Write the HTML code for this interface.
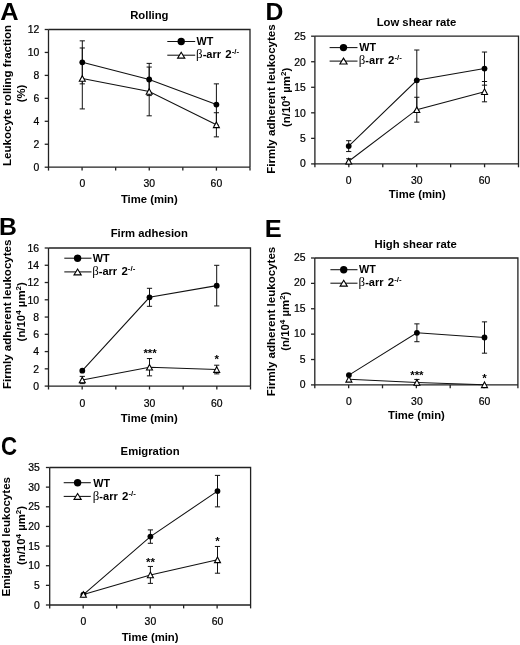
<!DOCTYPE html>
<html><head><meta charset="utf-8"><title>Figure</title>
<style>
html,body{margin:0;padding:0;background:#fff;}
body{width:520px;height:645px;overflow:hidden;font-family:"Liberation Sans", sans-serif;}
svg{display:block;will-change:transform;filter:blur(0.3px);}
</style></head><body>
<svg width="520" height="645" viewBox="0 0 520 645" font-family='"Liberation Sans", sans-serif' fill="#000">
<rect width="520" height="645" fill="#fff"/>
<path d="M48.5,29.5H250V167.2" fill="none" stroke="#222" stroke-width="1.3"/>
<path d="M48.5,29.5V167.2H250" fill="none" stroke="#222" stroke-width="1.3"/>
<line x1="44.7" y1="167.2" x2="48.5" y2="167.2" stroke="#222" stroke-width="1.3"/>
<text x="39.4" y="170.6" font-size="10.4" stroke="#000" stroke-width="0.22" text-anchor="end">0</text>
<line x1="44.7" y1="144.25" x2="48.5" y2="144.25" stroke="#222" stroke-width="1.3"/>
<text x="39.4" y="147.6" font-size="10.4" stroke="#000" stroke-width="0.22" text-anchor="end">2</text>
<line x1="44.7" y1="121.3" x2="48.5" y2="121.3" stroke="#222" stroke-width="1.3"/>
<text x="39.4" y="124.6" font-size="10.4" stroke="#000" stroke-width="0.22" text-anchor="end">4</text>
<line x1="44.7" y1="98.35" x2="48.5" y2="98.35" stroke="#222" stroke-width="1.3"/>
<text x="39.4" y="101.6" font-size="10.4" stroke="#000" stroke-width="0.22" text-anchor="end">6</text>
<line x1="44.7" y1="75.4" x2="48.5" y2="75.4" stroke="#222" stroke-width="1.3"/>
<text x="39.4" y="78.6" font-size="10.4" stroke="#000" stroke-width="0.22" text-anchor="end">8</text>
<line x1="44.7" y1="52.45" x2="48.5" y2="52.45" stroke="#222" stroke-width="1.3"/>
<text x="39.4" y="55.6" font-size="10.4" stroke="#000" stroke-width="0.22" text-anchor="end">10</text>
<line x1="44.7" y1="29.5" x2="48.5" y2="29.5" stroke="#222" stroke-width="1.3"/>
<text x="39.4" y="32.6" font-size="10.4" stroke="#000" stroke-width="0.22" text-anchor="end">12</text>
<line x1="48.5" y1="167.2" x2="48.5" y2="170.6" stroke="#222" stroke-width="1.3"/>
<line x1="82.08" y1="167.2" x2="82.08" y2="170.6" stroke="#222" stroke-width="1.3"/>
<line x1="115.67" y1="167.2" x2="115.67" y2="170.6" stroke="#222" stroke-width="1.3"/>
<line x1="149.25" y1="167.2" x2="149.25" y2="170.6" stroke="#222" stroke-width="1.3"/>
<line x1="182.83" y1="167.2" x2="182.83" y2="170.6" stroke="#222" stroke-width="1.3"/>
<line x1="216.42" y1="167.2" x2="216.42" y2="170.6" stroke="#222" stroke-width="1.3"/>
<line x1="250" y1="167.2" x2="250" y2="170.6" stroke="#222" stroke-width="1.3"/>
<text x="82.3" y="187.1" font-size="10.4" stroke="#000" stroke-width="0.22" text-anchor="middle">0</text>
<text x="149.2" y="187.1" font-size="10.4" stroke="#000" stroke-width="0.22" text-anchor="middle">30</text>
<text x="216.4" y="187.1" font-size="10.4" stroke="#000" stroke-width="0.22" text-anchor="middle">60</text>
<text x="149.35" y="202.8" font-size="11.3" font-weight="bold" text-anchor="middle">Time (min)</text>
<text x="149.35" y="18.9" font-size="11.3" font-weight="bold" text-anchor="middle">Rolling</text>
<text transform="translate(0.15,20) scale(1.06,1)" font-size="24" font-weight="bold">A</text>
<text transform="translate(11.4,95.4) rotate(-90)" font-size="11.55" font-weight="bold" text-anchor="middle">Leukocyte rolling fraction</text>
<text transform="translate(24.8,93.5) rotate(-90)" font-size="11.4" font-weight="bold" text-anchor="middle">(%)</text>
<line x1="82.3" y1="40.85" x2="82.3" y2="83.86" stroke="#111" stroke-width="1"/>
<line x1="79.7" y1="40.85" x2="84.9" y2="40.85" stroke="#111" stroke-width="1"/>
<line x1="79.7" y1="83.86" x2="84.9" y2="83.86" stroke="#111" stroke-width="1"/>
<line x1="149.2" y1="63.39" x2="149.2" y2="95.58" stroke="#111" stroke-width="1"/>
<line x1="146.6" y1="63.39" x2="151.8" y2="63.39" stroke="#111" stroke-width="1"/>
<line x1="146.6" y1="95.58" x2="151.8" y2="95.58" stroke="#111" stroke-width="1"/>
<line x1="216.4" y1="83.86" x2="216.4" y2="125.25" stroke="#111" stroke-width="1"/>
<line x1="213.8" y1="83.86" x2="219" y2="83.86" stroke="#111" stroke-width="1"/>
<line x1="213.8" y1="125.25" x2="219" y2="125.25" stroke="#111" stroke-width="1"/>
<line x1="82.3" y1="47.98" x2="82.3" y2="108.92" stroke="#111" stroke-width="1"/>
<line x1="79.7" y1="47.98" x2="84.9" y2="47.98" stroke="#111" stroke-width="1"/>
<line x1="79.7" y1="108.92" x2="84.9" y2="108.92" stroke="#111" stroke-width="1"/>
<line x1="149.2" y1="67.06" x2="149.2" y2="115.82" stroke="#111" stroke-width="1"/>
<line x1="146.6" y1="67.06" x2="151.8" y2="67.06" stroke="#111" stroke-width="1"/>
<line x1="146.6" y1="115.82" x2="151.8" y2="115.82" stroke="#111" stroke-width="1"/>
<line x1="216.4" y1="112.72" x2="216.4" y2="136.87" stroke="#111" stroke-width="1"/>
<line x1="213.8" y1="112.72" x2="219" y2="112.72" stroke="#111" stroke-width="1"/>
<line x1="213.8" y1="136.87" x2="219" y2="136.87" stroke="#111" stroke-width="1"/>
<polyline points="82.3,62.35 149.2,79.48 216.4,104.56" fill="none" stroke="#111" stroke-width="1.05"/>
<polyline points="82.3,78.45 149.2,91.44 216.4,124.8" fill="none" stroke="#111" stroke-width="1.05"/>
<circle cx="82.3" cy="62.35" r="2.9" fill="#000"/>
<circle cx="149.2" cy="79.48" r="2.9" fill="#000"/>
<circle cx="216.4" cy="104.56" r="2.9" fill="#000"/>
<polygon points="82.3,75.65 85.3,81.25 79.3,81.25" fill="#fff" stroke="#000" stroke-width="1.1" stroke-linejoin="miter"/>
<polygon points="149.2,88.64 152.2,94.24 146.2,94.24" fill="#fff" stroke="#000" stroke-width="1.1" stroke-linejoin="miter"/>
<polygon points="216.4,122 219.4,127.59 213.4,127.59" fill="#fff" stroke="#000" stroke-width="1.1" stroke-linejoin="miter"/>
<line x1="167.3" y1="41.5" x2="195.2" y2="41.5" stroke="#111" stroke-width="1.05"/>
<circle cx="181.2" cy="41.5" r="3.7" fill="#000"/>
<text transform="translate(196.6,44.9) scale(1.06,1)" font-size="10.2" font-weight="bold">WT</text>
<line x1="167.3" y1="55.2" x2="195.2" y2="55.2" stroke="#111" stroke-width="1.05"/>
<polygon points="181.2,52.25 184.8,58.15 177.6,58.15" fill="#fff" stroke="#000" stroke-width="1.1" stroke-linejoin="miter"/>
<text transform="translate(196.1,58.3) scale(1.04,1)" font-size="10.6" font-weight="bold"><tspan font-size="12.4" font-family="Liberation Serif" font-weight="normal">&#946;</tspan>-arr <tspan dx="1.2" font-size="11">2</tspan><tspan font-size="7.6" dy="-4">-/-</tspan></text>
<path d="M48.5,248H250.5V386.1" fill="none" stroke="#222" stroke-width="1.3"/>
<path d="M48.5,248V386.1H250.5" fill="none" stroke="#222" stroke-width="1.3"/>
<line x1="44.7" y1="386.1" x2="48.5" y2="386.1" stroke="#222" stroke-width="1.3"/>
<text x="39" y="390" font-size="10.4" stroke="#000" stroke-width="0.22" text-anchor="end">0</text>
<line x1="44.7" y1="368.84" x2="48.5" y2="368.84" stroke="#222" stroke-width="1.3"/>
<text x="39" y="372.7" font-size="10.4" stroke="#000" stroke-width="0.22" text-anchor="end">2</text>
<line x1="44.7" y1="351.58" x2="48.5" y2="351.58" stroke="#222" stroke-width="1.3"/>
<text x="39" y="355.4" font-size="10.4" stroke="#000" stroke-width="0.22" text-anchor="end">4</text>
<line x1="44.7" y1="334.31" x2="48.5" y2="334.31" stroke="#222" stroke-width="1.3"/>
<text x="39" y="338.1" font-size="10.4" stroke="#000" stroke-width="0.22" text-anchor="end">6</text>
<line x1="44.7" y1="317.05" x2="48.5" y2="317.05" stroke="#222" stroke-width="1.3"/>
<text x="39" y="320.8" font-size="10.4" stroke="#000" stroke-width="0.22" text-anchor="end">8</text>
<line x1="44.7" y1="299.79" x2="48.5" y2="299.79" stroke="#222" stroke-width="1.3"/>
<text x="39" y="303.5" font-size="10.4" stroke="#000" stroke-width="0.22" text-anchor="end">10</text>
<line x1="44.7" y1="282.52" x2="48.5" y2="282.52" stroke="#222" stroke-width="1.3"/>
<text x="39" y="286.2" font-size="10.4" stroke="#000" stroke-width="0.22" text-anchor="end">12</text>
<line x1="44.7" y1="265.26" x2="48.5" y2="265.26" stroke="#222" stroke-width="1.3"/>
<text x="39" y="268.9" font-size="10.4" stroke="#000" stroke-width="0.22" text-anchor="end">14</text>
<line x1="44.7" y1="248" x2="48.5" y2="248" stroke="#222" stroke-width="1.3"/>
<text x="39" y="251.6" font-size="10.4" stroke="#000" stroke-width="0.22" text-anchor="end">16</text>
<line x1="48.5" y1="386.1" x2="48.5" y2="389.5" stroke="#222" stroke-width="1.3"/>
<line x1="82.17" y1="386.1" x2="82.17" y2="389.5" stroke="#222" stroke-width="1.3"/>
<line x1="115.83" y1="386.1" x2="115.83" y2="389.5" stroke="#222" stroke-width="1.3"/>
<line x1="149.5" y1="386.1" x2="149.5" y2="389.5" stroke="#222" stroke-width="1.3"/>
<line x1="183.17" y1="386.1" x2="183.17" y2="389.5" stroke="#222" stroke-width="1.3"/>
<line x1="216.83" y1="386.1" x2="216.83" y2="389.5" stroke="#222" stroke-width="1.3"/>
<line x1="250.5" y1="386.1" x2="250.5" y2="389.5" stroke="#222" stroke-width="1.3"/>
<text x="82.3" y="406.5" font-size="10.4" stroke="#000" stroke-width="0.22" text-anchor="middle">0</text>
<text x="149.5" y="406.5" font-size="10.4" stroke="#000" stroke-width="0.22" text-anchor="middle">30</text>
<text x="216.7" y="406.5" font-size="10.4" stroke="#000" stroke-width="0.22" text-anchor="middle">60</text>
<text x="149.3" y="422.2" font-size="11.3" font-weight="bold" text-anchor="middle">Time (min)</text>
<text x="149.3" y="236.7" font-size="11.3" font-weight="bold" text-anchor="middle">Firm adhesion</text>
<text transform="translate(-0.9,235.4) scale(1.03,1)" font-size="24" font-weight="bold">B</text>
<text transform="translate(10.8,314.3) rotate(-90)" font-size="11.55" font-weight="bold" text-anchor="middle">Firmly adherent leukocytes</text>
<text transform="translate(24.9,311.8) rotate(-90)" font-size="11.4" font-weight="bold" text-anchor="middle">(n/10<tspan font-size="8" dy="-3.8">4</tspan><tspan dy="3.8"> &#181;m</tspan><tspan font-size="8" dy="-3.8">2</tspan><tspan dy="3.8">)</tspan></text>
<line x1="149.5" y1="288.31" x2="149.5" y2="306.3" stroke="#111" stroke-width="1"/>
<line x1="146.9" y1="288.31" x2="152.1" y2="288.31" stroke="#111" stroke-width="1"/>
<line x1="146.9" y1="306.3" x2="152.1" y2="306.3" stroke="#111" stroke-width="1"/>
<line x1="216.7" y1="265.3" x2="216.7" y2="305.95" stroke="#111" stroke-width="1"/>
<line x1="214.1" y1="265.3" x2="219.3" y2="265.3" stroke="#111" stroke-width="1"/>
<line x1="214.1" y1="305.95" x2="219.3" y2="305.95" stroke="#111" stroke-width="1"/>
<line x1="82.3" y1="376.37" x2="82.3" y2="383.63" stroke="#111" stroke-width="1"/>
<line x1="79.7" y1="376.37" x2="84.9" y2="376.37" stroke="#111" stroke-width="1"/>
<line x1="79.7" y1="383.63" x2="84.9" y2="383.63" stroke="#111" stroke-width="1"/>
<line x1="149.5" y1="358.55" x2="149.5" y2="375.85" stroke="#111" stroke-width="1"/>
<line x1="146.9" y1="358.55" x2="152.1" y2="358.55" stroke="#111" stroke-width="1"/>
<line x1="146.9" y1="375.85" x2="152.1" y2="375.85" stroke="#111" stroke-width="1"/>
<line x1="216.7" y1="365.21" x2="216.7" y2="373.86" stroke="#111" stroke-width="1"/>
<line x1="214.1" y1="365.21" x2="219.3" y2="365.21" stroke="#111" stroke-width="1"/>
<line x1="214.1" y1="373.86" x2="219.3" y2="373.86" stroke="#111" stroke-width="1"/>
<polyline points="82.3,370.66 149.5,297.3 216.7,285.63" fill="none" stroke="#111" stroke-width="1.05"/>
<polyline points="82.3,380 149.5,367.2 216.7,369.53" fill="none" stroke="#111" stroke-width="1.05"/>
<circle cx="82.3" cy="370.66" r="2.9" fill="#000"/>
<circle cx="149.5" cy="297.3" r="2.9" fill="#000"/>
<circle cx="216.7" cy="285.63" r="2.9" fill="#000"/>
<polygon points="82.3,377.2 85.3,382.8 79.3,382.8" fill="#fff" stroke="#000" stroke-width="1.1" stroke-linejoin="miter"/>
<polygon points="149.5,364.4 152.5,370 146.5,370" fill="#fff" stroke="#000" stroke-width="1.1" stroke-linejoin="miter"/>
<polygon points="216.7,366.73 219.7,372.33 213.7,372.33" fill="#fff" stroke="#000" stroke-width="1.1" stroke-linejoin="miter"/>
<text x="150.1" y="357.3" font-size="11.5" font-weight="bold" text-anchor="middle">***</text>
<text x="216.7" y="362.6" font-size="11.5" font-weight="bold" text-anchor="middle">*</text>
<line x1="64.3" y1="258.2" x2="91.5" y2="258.2" stroke="#111" stroke-width="1.05"/>
<circle cx="77.6" cy="258.2" r="3.7" fill="#000"/>
<text transform="translate(92.7,261.6) scale(1.06,1)" font-size="10.2" font-weight="bold">WT</text>
<line x1="64.3" y1="271.9" x2="91.5" y2="271.9" stroke="#111" stroke-width="1.05"/>
<polygon points="77.6,268.95 81.2,274.85 74,274.85" fill="#fff" stroke="#000" stroke-width="1.1" stroke-linejoin="miter"/>
<text transform="translate(92.2,275) scale(1.04,1)" font-size="10.6" font-weight="bold"><tspan font-size="12.4" font-family="Liberation Serif" font-weight="normal">&#946;</tspan>-arr <tspan dx="1.2" font-size="11">2</tspan><tspan font-size="7.6" dy="-4">-/-</tspan></text>
<path d="M49.7,467.5H250.6V605" fill="none" stroke="#222" stroke-width="1.3"/>
<path d="M49.7,467.5V605H250.6" fill="none" stroke="#222" stroke-width="1.3"/>
<line x1="45.9" y1="605" x2="49.7" y2="605" stroke="#222" stroke-width="1.3"/>
<text x="39.9" y="608.7" font-size="10.4" stroke="#000" stroke-width="0.22" text-anchor="end">0</text>
<line x1="45.9" y1="585.36" x2="49.7" y2="585.36" stroke="#222" stroke-width="1.3"/>
<text x="39.9" y="589.02" font-size="10.4" stroke="#000" stroke-width="0.22" text-anchor="end">5</text>
<line x1="45.9" y1="565.71" x2="49.7" y2="565.71" stroke="#222" stroke-width="1.3"/>
<text x="39.9" y="569.33" font-size="10.4" stroke="#000" stroke-width="0.22" text-anchor="end">10</text>
<line x1="45.9" y1="546.07" x2="49.7" y2="546.07" stroke="#222" stroke-width="1.3"/>
<text x="39.9" y="549.65" font-size="10.4" stroke="#000" stroke-width="0.22" text-anchor="end">15</text>
<line x1="45.9" y1="526.43" x2="49.7" y2="526.43" stroke="#222" stroke-width="1.3"/>
<text x="39.9" y="529.96" font-size="10.4" stroke="#000" stroke-width="0.22" text-anchor="end">20</text>
<line x1="45.9" y1="506.79" x2="49.7" y2="506.79" stroke="#222" stroke-width="1.3"/>
<text x="39.9" y="510.28" font-size="10.4" stroke="#000" stroke-width="0.22" text-anchor="end">25</text>
<line x1="45.9" y1="487.14" x2="49.7" y2="487.14" stroke="#222" stroke-width="1.3"/>
<text x="39.9" y="490.59" font-size="10.4" stroke="#000" stroke-width="0.22" text-anchor="end">30</text>
<line x1="45.9" y1="467.5" x2="49.7" y2="467.5" stroke="#222" stroke-width="1.3"/>
<text x="39.9" y="470.91" font-size="10.4" stroke="#000" stroke-width="0.22" text-anchor="end">35</text>
<line x1="49.7" y1="605" x2="49.7" y2="608.4" stroke="#222" stroke-width="1.3"/>
<line x1="83.18" y1="605" x2="83.18" y2="608.4" stroke="#222" stroke-width="1.3"/>
<line x1="116.67" y1="605" x2="116.67" y2="608.4" stroke="#222" stroke-width="1.3"/>
<line x1="150.15" y1="605" x2="150.15" y2="608.4" stroke="#222" stroke-width="1.3"/>
<line x1="183.63" y1="605" x2="183.63" y2="608.4" stroke="#222" stroke-width="1.3"/>
<line x1="217.12" y1="605" x2="217.12" y2="608.4" stroke="#222" stroke-width="1.3"/>
<line x1="250.6" y1="605" x2="250.6" y2="608.4" stroke="#222" stroke-width="1.3"/>
<text x="83.4" y="625.2" font-size="10.4" stroke="#000" stroke-width="0.22" text-anchor="middle">0</text>
<text x="150.4" y="625.2" font-size="10.4" stroke="#000" stroke-width="0.22" text-anchor="middle">30</text>
<text x="217.5" y="625.2" font-size="10.4" stroke="#000" stroke-width="0.22" text-anchor="middle">60</text>
<text x="150.1" y="640.9" font-size="11.3" font-weight="bold" text-anchor="middle">Time (min)</text>
<text x="150.1" y="455.4" font-size="11.3" font-weight="bold" text-anchor="middle">Emigration</text>
<text transform="translate(1,455) scale(0.93,1.07)" font-size="24" font-weight="bold">C</text>
<text transform="translate(9.6,536.7) rotate(-90)" font-size="11.55" font-weight="bold" text-anchor="middle">Emigrated leukocytes</text>
<text transform="translate(24.5,535.5) rotate(-90)" font-size="11.4" font-weight="bold" text-anchor="middle">(n/10<tspan font-size="8" dy="-3.8">4</tspan><tspan dy="3.8"> &#181;m</tspan><tspan font-size="8" dy="-3.8">2</tspan><tspan dy="3.8">)</tspan></text>
<line x1="150.4" y1="529.9" x2="150.4" y2="543.29" stroke="#111" stroke-width="1"/>
<line x1="147.8" y1="529.9" x2="153" y2="529.9" stroke="#111" stroke-width="1"/>
<line x1="147.8" y1="543.29" x2="153" y2="543.29" stroke="#111" stroke-width="1"/>
<line x1="217.5" y1="475.38" x2="217.5" y2="506.87" stroke="#111" stroke-width="1"/>
<line x1="214.9" y1="475.38" x2="220.1" y2="475.38" stroke="#111" stroke-width="1"/>
<line x1="214.9" y1="506.87" x2="220.1" y2="506.87" stroke="#111" stroke-width="1"/>
<line x1="150.4" y1="566.44" x2="150.4" y2="583.37" stroke="#111" stroke-width="1"/>
<line x1="147.8" y1="566.44" x2="153" y2="566.44" stroke="#111" stroke-width="1"/>
<line x1="147.8" y1="583.37" x2="153" y2="583.37" stroke="#111" stroke-width="1"/>
<line x1="217.5" y1="546.44" x2="217.5" y2="573.21" stroke="#111" stroke-width="1"/>
<line x1="214.9" y1="546.44" x2="220.1" y2="546.44" stroke="#111" stroke-width="1"/>
<line x1="214.9" y1="573.21" x2="220.1" y2="573.21" stroke="#111" stroke-width="1"/>
<polyline points="83.4,594.59 150.4,536.6 217.5,491.12" fill="none" stroke="#111" stroke-width="1.05"/>
<polyline points="83.4,594.47 150.4,574.9 217.5,559.82" fill="none" stroke="#111" stroke-width="1.05"/>
<circle cx="83.4" cy="594.59" r="2.9" fill="#000"/>
<circle cx="150.4" cy="536.6" r="2.9" fill="#000"/>
<circle cx="217.5" cy="491.12" r="2.9" fill="#000"/>
<polygon points="83.4,591.67 86.4,597.27 80.4,597.27" fill="#fff" stroke="#000" stroke-width="1.1" stroke-linejoin="miter"/>
<polygon points="150.4,572.1 153.4,577.7 147.4,577.7" fill="#fff" stroke="#000" stroke-width="1.1" stroke-linejoin="miter"/>
<polygon points="217.5,557.02 220.5,562.62 214.5,562.62" fill="#fff" stroke="#000" stroke-width="1.1" stroke-linejoin="miter"/>
<text x="150.4" y="566.4" font-size="11.5" font-weight="bold" text-anchor="middle">**</text>
<text x="217.5" y="545" font-size="11.5" font-weight="bold" text-anchor="middle">*</text>
<line x1="63.7" y1="482.7" x2="90.8" y2="482.7" stroke="#111" stroke-width="1.05"/>
<circle cx="77.6" cy="482.7" r="3.7" fill="#000"/>
<text transform="translate(93.3,487.2) scale(1.06,1)" font-size="10.2" font-weight="bold">WT</text>
<line x1="63.7" y1="496.4" x2="90.8" y2="496.4" stroke="#111" stroke-width="1.05"/>
<polygon points="77.6,493.45 81.2,499.35 74,499.35" fill="#fff" stroke="#000" stroke-width="1.1" stroke-linejoin="miter"/>
<text transform="translate(92.8,499.5) scale(1.04,1)" font-size="10.6" font-weight="bold"><tspan font-size="12.4" font-family="Liberation Serif" font-weight="normal">&#946;</tspan>-arr <tspan dx="1.2" font-size="11">2</tspan><tspan font-size="7.6" dy="-4">-/-</tspan></text>
<path d="M314.9,36.2H518.5V163.9" fill="none" stroke="#222" stroke-width="1.3"/>
<path d="M314.9,36.2V163.9H518.5" fill="none" stroke="#222" stroke-width="1.3"/>
<line x1="311.1" y1="163.9" x2="314.9" y2="163.9" stroke="#222" stroke-width="1.3"/>
<text x="305.7" y="167.4" font-size="10.4" stroke="#000" stroke-width="0.22" text-anchor="end">0</text>
<line x1="311.1" y1="138.36" x2="314.9" y2="138.36" stroke="#222" stroke-width="1.3"/>
<text x="305.7" y="142" font-size="10.4" stroke="#000" stroke-width="0.22" text-anchor="end">5</text>
<line x1="311.1" y1="112.82" x2="314.9" y2="112.82" stroke="#222" stroke-width="1.3"/>
<text x="305.7" y="116.6" font-size="10.4" stroke="#000" stroke-width="0.22" text-anchor="end">10</text>
<line x1="311.1" y1="87.28" x2="314.9" y2="87.28" stroke="#222" stroke-width="1.3"/>
<text x="305.7" y="91.2" font-size="10.4" stroke="#000" stroke-width="0.22" text-anchor="end">15</text>
<line x1="311.1" y1="61.74" x2="314.9" y2="61.74" stroke="#222" stroke-width="1.3"/>
<text x="305.7" y="65.8" font-size="10.4" stroke="#000" stroke-width="0.22" text-anchor="end">20</text>
<line x1="311.1" y1="36.2" x2="314.9" y2="36.2" stroke="#222" stroke-width="1.3"/>
<text x="305.7" y="40.4" font-size="10.4" stroke="#000" stroke-width="0.22" text-anchor="end">25</text>
<line x1="314.9" y1="163.9" x2="314.9" y2="167.3" stroke="#222" stroke-width="1.3"/>
<line x1="348.83" y1="163.9" x2="348.83" y2="167.3" stroke="#222" stroke-width="1.3"/>
<line x1="382.77" y1="163.9" x2="382.77" y2="167.3" stroke="#222" stroke-width="1.3"/>
<line x1="416.7" y1="163.9" x2="416.7" y2="167.3" stroke="#222" stroke-width="1.3"/>
<line x1="450.63" y1="163.9" x2="450.63" y2="167.3" stroke="#222" stroke-width="1.3"/>
<line x1="484.57" y1="163.9" x2="484.57" y2="167.3" stroke="#222" stroke-width="1.3"/>
<line x1="518.5" y1="163.9" x2="518.5" y2="167.3" stroke="#222" stroke-width="1.3"/>
<text x="348.7" y="183.9" font-size="10.4" stroke="#000" stroke-width="0.22" text-anchor="middle">0</text>
<text x="416.8" y="183.9" font-size="10.4" stroke="#000" stroke-width="0.22" text-anchor="middle">30</text>
<text x="484.5" y="183.9" font-size="10.4" stroke="#000" stroke-width="0.22" text-anchor="middle">60</text>
<text x="417.3" y="197.8" font-size="11.3" font-weight="bold" text-anchor="middle">Time (min)</text>
<text x="416.5" y="26.2" font-size="11.3" font-weight="bold" text-anchor="middle">Low shear rate</text>
<text transform="translate(265.4,20.2) scale(1.03,1)" font-size="24" font-weight="bold">D</text>
<text transform="translate(275.1,99.1) rotate(-90)" font-size="11.55" font-weight="bold" text-anchor="middle">Firmly adherent leukocytes</text>
<text transform="translate(289.5,97.4) rotate(-90)" font-size="11.4" font-weight="bold" text-anchor="middle">(n/10<tspan font-size="8" dy="-3.8">4</tspan><tspan dy="3.8"> &#181;m</tspan><tspan font-size="8" dy="-3.8">2</tspan><tspan dy="3.8">)</tspan></text>
<line x1="348.7" y1="140.69" x2="348.7" y2="151.56" stroke="#111" stroke-width="1"/>
<line x1="346.1" y1="140.69" x2="351.3" y2="140.69" stroke="#111" stroke-width="1"/>
<line x1="346.1" y1="151.56" x2="351.3" y2="151.56" stroke="#111" stroke-width="1"/>
<line x1="416.8" y1="50.01" x2="416.8" y2="110.56" stroke="#111" stroke-width="1"/>
<line x1="414.2" y1="50.01" x2="419.4" y2="50.01" stroke="#111" stroke-width="1"/>
<line x1="414.2" y1="110.56" x2="419.4" y2="110.56" stroke="#111" stroke-width="1"/>
<line x1="484.5" y1="52.04" x2="484.5" y2="85.16" stroke="#111" stroke-width="1"/>
<line x1="481.9" y1="52.04" x2="487.1" y2="52.04" stroke="#111" stroke-width="1"/>
<line x1="481.9" y1="85.16" x2="487.1" y2="85.16" stroke="#111" stroke-width="1"/>
<line x1="348.7" y1="158.72" x2="348.7" y2="163.8" stroke="#111" stroke-width="1"/>
<line x1="346.1" y1="158.72" x2="351.3" y2="158.72" stroke="#111" stroke-width="1"/>
<line x1="346.1" y1="163.8" x2="351.3" y2="163.8" stroke="#111" stroke-width="1"/>
<line x1="416.8" y1="97.25" x2="416.8" y2="122.14" stroke="#111" stroke-width="1"/>
<line x1="414.2" y1="97.25" x2="419.4" y2="97.25" stroke="#111" stroke-width="1"/>
<line x1="414.2" y1="122.14" x2="419.4" y2="122.14" stroke="#111" stroke-width="1"/>
<line x1="484.5" y1="81.5" x2="484.5" y2="101.82" stroke="#111" stroke-width="1"/>
<line x1="481.9" y1="81.5" x2="487.1" y2="81.5" stroke="#111" stroke-width="1"/>
<line x1="481.9" y1="101.82" x2="487.1" y2="101.82" stroke="#111" stroke-width="1"/>
<polyline points="348.7,146.12 416.8,80.28 484.5,68.6" fill="none" stroke="#111" stroke-width="1.05"/>
<polyline points="348.7,161.26 416.8,109.7 484.5,91.66" fill="none" stroke="#111" stroke-width="1.05"/>
<circle cx="348.7" cy="146.12" r="2.9" fill="#000"/>
<circle cx="416.8" cy="80.28" r="2.9" fill="#000"/>
<circle cx="484.5" cy="68.6" r="2.9" fill="#000"/>
<polygon points="348.7,158.46 351.7,164.06 345.7,164.06" fill="#fff" stroke="#000" stroke-width="1.1" stroke-linejoin="miter"/>
<polygon points="416.8,106.9 419.8,112.5 413.8,112.5" fill="#fff" stroke="#000" stroke-width="1.1" stroke-linejoin="miter"/>
<polygon points="484.5,88.86 487.5,94.46 481.5,94.46" fill="#fff" stroke="#000" stroke-width="1.1" stroke-linejoin="miter"/>
<line x1="329.6" y1="47.6" x2="357.5" y2="47.6" stroke="#111" stroke-width="1.05"/>
<circle cx="343.5" cy="47.6" r="3.7" fill="#000"/>
<text transform="translate(359.3,51) scale(1.06,1)" font-size="10.2" font-weight="bold">WT</text>
<line x1="329.6" y1="61.1" x2="357.5" y2="61.1" stroke="#111" stroke-width="1.05"/>
<polygon points="343.5,58.15 347.1,64.05 339.9,64.05" fill="#fff" stroke="#000" stroke-width="1.1" stroke-linejoin="miter"/>
<text transform="translate(358.8,64.2) scale(1.04,1)" font-size="10.6" font-weight="bold"><tspan font-size="12.4" font-family="Liberation Serif" font-weight="normal">&#946;</tspan>-arr <tspan dx="1.2" font-size="11">2</tspan><tspan font-size="7.6" dy="-4">-/-</tspan></text>
<path d="M314.8,258H517.9V384.9" fill="none" stroke="#222" stroke-width="1.3"/>
<path d="M314.8,258V384.9H517.9" fill="none" stroke="#222" stroke-width="1.3"/>
<line x1="311" y1="384.9" x2="314.8" y2="384.9" stroke="#222" stroke-width="1.3"/>
<text x="305.5" y="388.4" font-size="10.4" stroke="#000" stroke-width="0.22" text-anchor="end">0</text>
<line x1="311" y1="359.52" x2="314.8" y2="359.52" stroke="#222" stroke-width="1.3"/>
<text x="305.5" y="362.9" font-size="10.4" stroke="#000" stroke-width="0.22" text-anchor="end">5</text>
<line x1="311" y1="334.14" x2="314.8" y2="334.14" stroke="#222" stroke-width="1.3"/>
<text x="305.5" y="337.4" font-size="10.4" stroke="#000" stroke-width="0.22" text-anchor="end">10</text>
<line x1="311" y1="308.76" x2="314.8" y2="308.76" stroke="#222" stroke-width="1.3"/>
<text x="305.5" y="311.9" font-size="10.4" stroke="#000" stroke-width="0.22" text-anchor="end">15</text>
<line x1="311" y1="283.38" x2="314.8" y2="283.38" stroke="#222" stroke-width="1.3"/>
<text x="305.5" y="286.4" font-size="10.4" stroke="#000" stroke-width="0.22" text-anchor="end">20</text>
<line x1="311" y1="258" x2="314.8" y2="258" stroke="#222" stroke-width="1.3"/>
<text x="305.5" y="260.9" font-size="10.4" stroke="#000" stroke-width="0.22" text-anchor="end">25</text>
<line x1="314.8" y1="384.9" x2="314.8" y2="388.3" stroke="#222" stroke-width="1.3"/>
<line x1="348.65" y1="384.9" x2="348.65" y2="388.3" stroke="#222" stroke-width="1.3"/>
<line x1="382.5" y1="384.9" x2="382.5" y2="388.3" stroke="#222" stroke-width="1.3"/>
<line x1="416.35" y1="384.9" x2="416.35" y2="388.3" stroke="#222" stroke-width="1.3"/>
<line x1="450.2" y1="384.9" x2="450.2" y2="388.3" stroke="#222" stroke-width="1.3"/>
<line x1="484.05" y1="384.9" x2="484.05" y2="388.3" stroke="#222" stroke-width="1.3"/>
<line x1="517.9" y1="384.9" x2="517.9" y2="388.3" stroke="#222" stroke-width="1.3"/>
<text x="348.9" y="404.9" font-size="10.4" stroke="#000" stroke-width="0.22" text-anchor="middle">0</text>
<text x="416.9" y="404.9" font-size="10.4" stroke="#000" stroke-width="0.22" text-anchor="middle">30</text>
<text x="484.5" y="404.9" font-size="10.4" stroke="#000" stroke-width="0.22" text-anchor="middle">60</text>
<text x="416.4" y="419.4" font-size="11.3" font-weight="bold" text-anchor="middle">Time (min)</text>
<text x="415.6" y="247.6" font-size="11.3" font-weight="bold" text-anchor="middle">High shear rate</text>
<text transform="translate(264.7,236.9) scale(1.06,1)" font-size="24" font-weight="bold">E</text>
<text transform="translate(275.4,321.5) rotate(-90)" font-size="11.55" font-weight="bold" text-anchor="middle">Firmly adherent leukocytes</text>
<text transform="translate(288.8,321.2) rotate(-90)" font-size="11.4" font-weight="bold" text-anchor="middle">(n/10<tspan font-size="8" dy="-3.8">4</tspan><tspan dy="3.8"> &#181;m</tspan><tspan font-size="8" dy="-3.8">2</tspan><tspan dy="3.8">)</tspan></text>
<line x1="416.9" y1="323.86" x2="416.9" y2="341.71" stroke="#111" stroke-width="1"/>
<line x1="414.3" y1="323.86" x2="419.5" y2="323.86" stroke="#111" stroke-width="1"/>
<line x1="414.3" y1="341.71" x2="419.5" y2="341.71" stroke="#111" stroke-width="1"/>
<line x1="484.5" y1="321.87" x2="484.5" y2="353.18" stroke="#111" stroke-width="1"/>
<line x1="481.9" y1="321.87" x2="487.1" y2="321.87" stroke="#111" stroke-width="1"/>
<line x1="481.9" y1="353.18" x2="487.1" y2="353.18" stroke="#111" stroke-width="1"/>
<line x1="416.9" y1="379.44" x2="416.9" y2="385.56" stroke="#111" stroke-width="1"/>
<line x1="414.3" y1="379.44" x2="419.5" y2="379.44" stroke="#111" stroke-width="1"/>
<line x1="414.3" y1="385.56" x2="419.5" y2="385.56" stroke="#111" stroke-width="1"/>
<polyline points="348.9,375.11 416.9,332.78 484.5,337.52" fill="none" stroke="#111" stroke-width="1.05"/>
<polyline points="348.9,379.29 416.9,382.5 484.5,384.8" fill="none" stroke="#111" stroke-width="1.05"/>
<circle cx="348.9" cy="375.11" r="2.9" fill="#000"/>
<circle cx="416.9" cy="332.78" r="2.9" fill="#000"/>
<circle cx="484.5" cy="337.52" r="2.9" fill="#000"/>
<polygon points="348.9,376.49 351.9,382.09 345.9,382.09" fill="#fff" stroke="#000" stroke-width="1.1" stroke-linejoin="miter"/>
<polygon points="416.9,379.7 419.9,385.31 413.9,385.31" fill="#fff" stroke="#000" stroke-width="1.1" stroke-linejoin="miter"/>
<polygon points="484.5,382 487.5,387.6 481.5,387.6" fill="#fff" stroke="#000" stroke-width="1.1" stroke-linejoin="miter"/>
<text x="416.9" y="378.9" font-size="11.5" font-weight="bold" text-anchor="middle">***</text>
<text x="484.5" y="382.4" font-size="11.5" font-weight="bold" text-anchor="middle">*</text>
<line x1="330.4" y1="269.7" x2="357.5" y2="269.7" stroke="#111" stroke-width="1.05"/>
<circle cx="343.7" cy="269.7" r="3.7" fill="#000"/>
<text transform="translate(359.1,273.1) scale(1.06,1)" font-size="10.2" font-weight="bold">WT</text>
<line x1="330.4" y1="283.2" x2="357.5" y2="283.2" stroke="#111" stroke-width="1.05"/>
<polygon points="343.7,280.25 347.3,286.15 340.1,286.15" fill="#fff" stroke="#000" stroke-width="1.1" stroke-linejoin="miter"/>
<text transform="translate(358.6,286.3) scale(1.04,1)" font-size="10.6" font-weight="bold"><tspan font-size="12.4" font-family="Liberation Serif" font-weight="normal">&#946;</tspan>-arr <tspan dx="1.2" font-size="11">2</tspan><tspan font-size="7.6" dy="-4">-/-</tspan></text>
</svg>
</body></html>
